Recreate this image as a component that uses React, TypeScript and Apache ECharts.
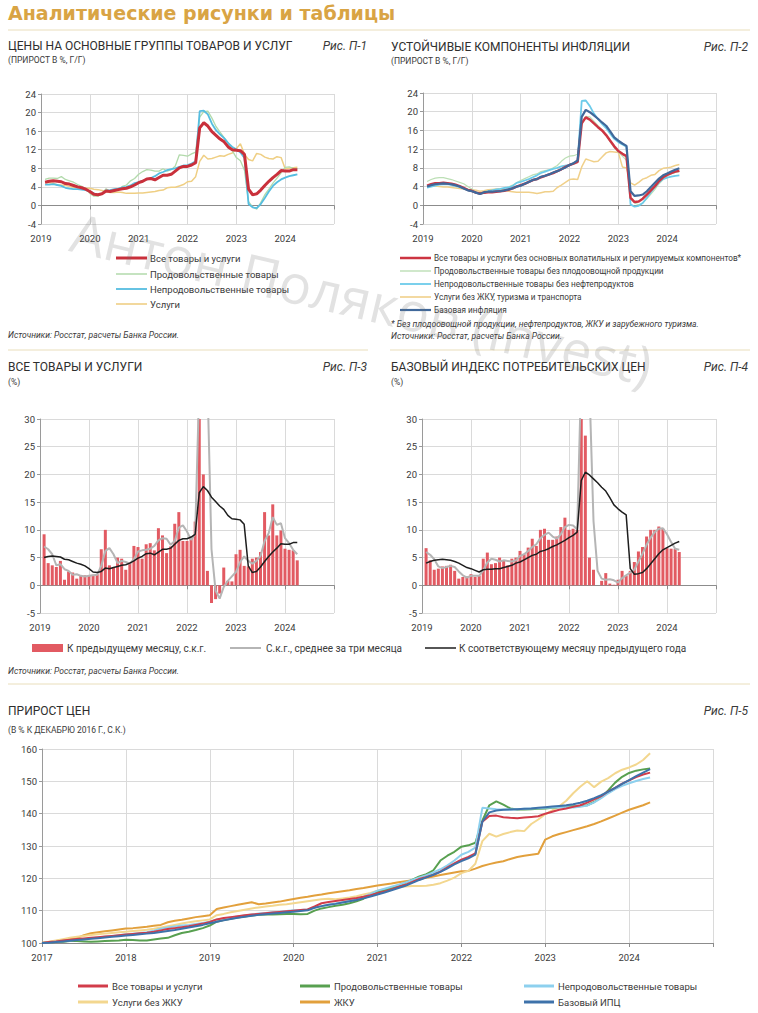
import React, { useEffect, useRef } from "react";
import * as echarts from "echarts";

// ---------- Panel П-1 (y/y %, Jan 2019 .. Mar 2024) ----------
const P1_ALL = [
  5.0, 5.2, 5.3, 5.2, 5.1, 4.7, 4.6, 4.3, 4.0, 3.8, 3.5, 3.0,
  2.4, 2.3, 2.5, 3.1, 3.0, 3.2, 3.4, 3.6, 3.7, 4.0, 4.4, 4.9,
  5.2, 5.7, 5.8, 5.5, 6.0, 6.5, 6.5, 6.7, 7.4, 8.1, 8.4, 8.4,
  8.7, 9.2, 16.7, 17.8, 17.1, 15.9, 15.1, 14.3, 13.7, 12.6, 12.0, 11.9,
  11.8, 11.0, 3.5, 2.3, 2.5, 3.3, 4.3, 5.2, 6.0, 6.7, 7.5, 7.4,
  7.4, 7.7, 7.7,
];
const P1_FOOD = [
  5.6, 5.9, 5.9, 5.8, 6.2, 5.6, 5.3, 5.0, 4.5, 4.1, 3.6, 2.6,
  2.0, 2.0, 2.6, 3.6, 3.0, 3.0, 3.4, 4.1, 4.4, 5.3, 5.8, 6.7,
  7.3, 7.7, 7.6, 7.4, 7.4, 7.9, 7.4, 7.7, 8.5, 10.9, 10.8, 10.6,
  11.1, 11.5, 19.0, 20.2, 20.3, 18.8, 17.0, 15.8, 14.6, 13.5, 11.8, 10.3,
  9.6, 7.6, 0.8, -0.3, -0.8, 0.6, 2.3, 3.5, 4.8, 5.9, 7.0, 8.2,
  8.3, 8.0, 7.9,
];
const P1_NONFOOD = [
  4.5, 4.5, 4.6, 4.4, 4.2, 3.8, 3.6, 3.5, 3.5, 3.4, 3.3, 3.0,
  2.6, 2.3, 2.5, 3.2, 3.3, 3.5, 3.6, 3.9, 4.0, 4.3, 4.8, 5.0,
  5.3, 5.6, 5.9, 6.3, 6.9, 7.2, 7.6, 7.8, 8.0, 8.3, 8.6, 8.7,
  9.0, 9.5, 20.3, 20.4, 19.6, 17.6, 16.2, 15.3, 14.5, 13.4, 12.6, 12.1,
  11.4, 10.2, 0.3, -0.4, -0.6, 0.3, 1.6, 3.0, 4.2, 5.0, 5.6, 6.0,
  6.3, 6.5, 6.7,
];
const P1_SERV = [
  5.0, 4.9, 4.8, 4.4, 4.4, 4.3, 4.1, 3.9, 3.8, 3.8, 3.7, 3.7,
  3.5, 3.4, 3.2, 3.0, 2.8, 2.8, 2.9, 2.8, 2.6, 2.6, 2.6, 2.7,
  2.7, 2.8, 2.9, 3.0, 3.2, 3.3, 3.8, 3.9, 3.9, 4.2, 4.5, 5.1,
  5.2, 6.2, 9.5, 10.8, 10.0, 10.1, 10.4, 10.7, 10.6, 11.0, 11.3, 12.2,
  13.3, 11.0, 9.9, 9.6, 11.2, 11.0, 10.4, 10.1, 10.0, 10.5, 10.3, 7.9,
  8.0, 8.1, 8.2,
];

// ---------- Panel П-2 ----------
const P2_EXVOL = [
  4.2, 4.5, 4.7, 4.7, 4.8, 4.7, 4.6, 4.4, 4.1, 3.7, 3.3, 3.1,
  2.7, 2.5, 2.7, 2.8, 2.8, 2.9, 3.0, 3.1, 3.3, 3.6, 4.0, 4.3,
  4.6, 5.0, 5.4, 5.6, 6.0, 6.3, 6.6, 6.9, 7.3, 7.7, 8.2, 8.6,
  8.9, 9.3, 17.5, 18.8, 18.3, 17.5, 16.7, 16.0, 15.0, 13.8, 12.6, 11.6,
  11.0, 10.5, 1.6, 0.7, 0.8, 1.4, 2.3, 3.2, 4.1, 5.2, 6.0, 6.5,
  6.9, 7.2, 7.4,
];
const P2_FOOD = [
  5.1, 5.5, 5.8, 5.9, 5.9, 5.7, 5.5, 5.2, 4.9, 4.6, 4.0, 3.5,
  2.8, 2.5, 2.6, 3.1, 3.2, 3.3, 3.4, 3.6, 3.9, 4.3, 4.8, 5.3,
  5.7, 6.1, 6.5, 6.7, 7.2, 7.4, 7.6, 8.0, 8.5, 9.4, 10.1, 10.5,
  10.6, 10.9, 17.5, 19.0, 18.9, 18.0, 17.0, 16.1, 15.0, 13.6, 12.3, 11.3,
  10.5, 9.6, 1.8, 0.5, 0.1, 0.5, 1.4, 2.4, 3.4, 4.6, 5.5, 6.3,
  6.7, 7.0, 7.2,
];
const P2_NONFOOD = [
  3.8, 4.0, 4.2, 4.4, 4.5, 4.5, 4.3, 4.1, 3.9, 3.6, 3.3, 3.1,
  2.7, 2.5, 2.6, 3.0, 3.2, 3.4, 3.5, 3.7, 3.8, 4.1, 4.8, 5.0,
  5.3, 5.6, 6.0, 6.4, 6.9, 7.2, 7.5, 7.8, 8.0, 8.3, 8.5, 8.7,
  9.0, 9.5, 22.3, 22.4, 21.2, 19.6, 18.4, 17.4, 16.5, 15.3, 14.2, 13.5,
  13.0, 12.5, 0.2, -0.3, -0.1, 0.5, 1.6, 2.8, 3.9, 4.9, 5.6, 5.9,
  6.1, 6.3, 6.4,
];
const P2_SERV = [
  3.9, 4.1, 4.1, 4.0, 3.9, 3.9, 3.8, 3.7, 3.6, 3.5, 3.4, 3.3,
  3.2, 3.0, 3.1, 3.3, 3.4, 3.5, 3.5, 3.3, 3.0, 2.9, 2.8, 2.8,
  2.8, 2.8, 2.7, 2.5, 2.7, 2.9, 2.9, 3.0, 3.8, 4.3, 4.9, 5.5,
  5.6, 5.5, 8.2, 9.9, 9.6, 9.3, 9.4, 10.3, 11.2, 11.5, 11.4, 11.3,
  8.2, 8.0, 4.8, 4.3, 4.9, 5.6, 5.9, 6.4, 6.6, 7.4, 7.9, 8.0,
  8.2, 8.5, 8.7,
];
const CORE_YY = [
  4.0, 4.3, 4.5, 4.6, 4.7, 4.6, 4.5, 4.3, 4.0, 3.6, 3.2, 3.0,
  2.7, 2.4, 2.8, 2.9, 2.9, 3.0, 3.0, 3.2, 3.4, 3.6, 4.0, 4.2,
  4.6, 5.0, 5.4, 5.6, 6.1, 6.3, 6.6, 7.0, 7.3, 7.7, 8.1, 8.6,
  9.0, 9.6, 18.9, 20.4, 19.9, 19.2, 18.5, 17.7, 17.0, 15.8, 14.5, 13.8,
  13.2, 12.7, 3.0, 2.0, 2.1, 2.3, 3.0, 3.9, 4.8, 5.7, 6.4, 6.8,
  7.2, 7.6, 7.9,
];

// ---------- Panel П-3 ----------
const P3_MOM = [
  9.2, 4.0, 3.6, 3.3, 4.4, 1.0, 2.5, 2.3, 1.2, 1.7, 1.8, 1.7,
  1.9, 2.0, 6.5, 10.0, 3.6, 3.3, 5.0, 4.8, 2.8, 4.2, 7.1, 6.9,
  4.8, 7.4, 7.6, 6.3, 10.3, 9.0, 5.8, 7.0, 11.1, 13.2, 8.0, 8.0,
  8.5, 11.5, 87, 20.0, 2.6, -3.2, -2.5, -1.5, 3.2, 0.8, 0.7, 5.6,
  6.4, 3.5, 3.4, 4.8, 5.0, 6.0, 13.2, 9.0, 14.6, 9.0, 9.9, 6.6,
  6.4, 6.3, 4.5,
];
const P3_AVG3 = [
  7.0, 6.5, 5.6, 3.6, 3.8, 2.9, 2.6, 1.9, 2.0, 1.7, 1.6, 1.7,
  1.8, 1.9, 3.5, 6.2, 6.7, 5.6, 4.0, 4.4, 4.2, 3.9, 4.7, 6.1,
  6.3, 6.4, 6.6, 7.1, 8.1, 8.5, 8.4, 7.3, 8.0, 10.4, 10.8, 9.7,
  8.2, 9.3, 36, 40, 37, 6.5, -1.0, -2.4, -0.3, 0.8, 1.6, 2.4,
  4.2, 5.2, 4.4, 3.9, 4.4, 5.3, 8.0, 9.4, 12.3, 10.9, 11.2, 8.5,
  7.6, 6.4, 5.6,
];

// ---------- Panel П-4 ----------
const P4_MOM = [
  6.7, 4.5, 2.8, 3.0, 3.4, 3.5, 3.7, 2.6, 1.2, 1.5, 1.6, 2.0,
  1.5, 1.7, 4.8, 5.9, 3.8, 4.0, 5.0, 4.5, 3.6, 4.8, 5.0, 6.2,
  5.6, 6.8, 8.4, 7.1, 10.0, 10.2, 8.2, 8.2, 8.8, 10.5, 12.2, 10.0,
  10.2, 10.0, 75, 27, 5.0, 2.8, 0.0, 0.8, 2.2, 0.3, 0.1, 1.0,
  2.6, 1.7, 2.6, 4.2, 6.1, 6.9, 8.8, 10.0, 10.0, 10.6, 10.2, 6.7,
  6.6, 6.6, 6.0,
];
const P4_AVG3 = [
  6.0, 5.5, 4.7, 3.4, 3.1, 3.3, 3.5, 3.3, 2.5, 1.8, 1.4, 1.7,
  1.7, 1.7, 2.7, 4.1, 4.8, 4.6, 4.3, 4.5, 4.4, 4.3, 4.5, 5.3,
  5.6, 6.2, 6.9, 7.4, 8.5, 9.1, 9.5, 8.8, 8.4, 9.2, 10.5, 10.9,
  10.8, 10.1, 38, 37, 36, 11.6, 2.6, 1.2, 1.0, 1.1, 0.9, 0.5,
  1.3, 1.8, 2.3, 2.8, 4.3, 5.7, 7.3, 8.6, 9.6, 10.2, 10.3, 9.2,
  7.8, 6.6, 6.4,
];

// ---------- Panel П-5 (index, Dec 2016 = 100, Dec 2016 .. Mar 2024) ----------
const P5_ALL = [100,
  100.3, 100.5, 100.8, 101.0, 101.2, 101.4, 101.6, 101.8, 102.0, 102.2, 102.4, 102.6,
  102.8, 103.0, 103.2, 103.5, 103.9, 104.3, 104.6, 104.9, 105.2, 105.6, 106.0, 106.5,
  107.3, 107.7, 108.0, 108.3, 108.6, 108.8, 109.0, 109.2, 109.4, 109.6, 109.8, 110.0,
  110.2, 110.4, 111.3, 112.3, 112.7, 113.0, 113.3, 113.6, 113.9, 114.3, 114.8, 115.4,
  115.9, 116.6, 117.3, 118.0, 118.9, 119.8, 120.4, 121.1, 122.1, 123.4, 124.6, 125.8,
  126.6, 127.7, 137.5, 139.3, 139.4, 138.9, 138.7, 138.6, 138.8, 139.0, 139.2, 140.0,
  140.6, 141.2, 141.6, 142.1, 142.6, 143.4, 144.4, 145.4, 146.9, 148.0, 149.3, 150.3,
  151.3, 152.1, 152.7,
];
const P5_FOOD = [100,
  100.2, 100.3, 100.4, 100.6, 100.6, 100.5, 100.4, 100.5, 100.6, 100.7, 100.8, 101.0,
  100.9, 100.8, 100.8, 101.1, 101.4, 101.6, 102.4, 103.1, 103.5, 104.0, 104.6, 105.4,
  106.6, 107.1, 107.5, 107.9, 108.2, 108.5, 108.7, 108.8, 108.8, 108.9, 109.0, 109.0,
  108.9, 109.0, 110.0, 110.7, 111.1, 111.5, 111.8, 112.3, 112.9, 113.7, 114.8, 115.8,
  116.3, 117.0, 117.7, 118.6, 119.6, 120.6, 121.3, 122.5, 125.5, 127.0, 128.2, 129.8,
  130.2, 131.0, 137.8, 142.6, 143.8, 142.8, 141.6, 141.3, 141.3, 141.4, 141.5, 141.6,
  141.8, 142.0, 142.2, 142.3, 142.4, 142.6, 143.6, 145.0, 147.2, 149.6, 151.4, 152.6,
  153.3, 153.7, 154.0,
];
const P5_NONFOOD = [100,
  100.2, 100.4, 100.6, 100.8, 101.0, 101.2, 101.5, 101.7, 101.9, 102.1, 102.4, 102.7,
  102.9, 103.1, 103.3, 103.8, 104.4, 104.8, 105.1, 105.4, 105.6, 105.9, 106.2, 106.6,
  107.3, 107.6, 107.9, 108.2, 108.5, 108.8, 109.1, 109.3, 109.5, 109.7, 109.9, 110.1,
  110.2, 110.4, 111.0, 111.4, 111.8, 112.2, 112.6, 113.0, 113.5, 114.3, 115.2, 116.2,
  116.8, 117.4, 118.0, 118.7, 119.5, 120.3, 121.0, 121.8, 122.8, 124.0, 125.5, 127.3,
  128.2, 129.5, 141.8, 141.6, 141.4, 141.3, 141.3, 141.4, 141.5, 141.6, 141.7, 141.8,
  141.9, 142.0, 142.0, 141.9, 142.1, 142.5, 143.5, 144.8, 146.3, 147.6, 148.6, 149.4,
  150.1, 150.7, 151.2,
];
const P5_SERV = [100,
  100.4, 100.8, 101.2, 101.6, 101.9, 102.2, 102.5, 102.7, 102.9, 103.1, 103.3, 103.5,
  103.7, 103.9, 104.1, 104.4, 104.8, 105.2, 105.6, 106.0, 106.4, 106.7, 107.0, 107.3,
  108.6, 109.0, 109.5, 109.9, 110.3, 110.7, 111.0, 111.3, 111.5, 111.8, 112.0, 112.3,
  112.6, 112.9, 113.2, 113.5, 113.7, 113.5, 113.8, 114.1, 114.5, 115.0, 115.5, 116.2,
  116.6, 117.0, 117.3, 117.5, 117.6, 117.6, 117.7, 118.0, 118.5, 119.3, 120.2, 121.6,
  122.3, 124.5, 131.5, 133.8, 132.9, 133.7, 134.3, 134.8, 134.6, 136.8, 138.2, 139.8,
  141.0, 142.3, 144.0, 146.3, 148.3, 150.0, 148.2, 149.9, 151.0, 152.5, 153.6, 154.3,
  155.2, 156.6, 158.7,
];
const P5_HOUSING = [100,
  100.3, 100.6, 100.9, 101.2, 101.6, 102.4, 103.0, 103.3, 103.6, 103.9, 104.2, 104.5,
  104.6, 104.8, 105.0, 105.3, 105.6, 106.4, 106.9, 107.2, 107.6, 108.0, 108.3, 108.6,
  110.5, 111.0, 111.4, 111.8, 112.2, 112.6, 112.0, 112.2, 112.5, 112.8, 113.2, 113.6,
  114.0, 114.3, 114.7, 115.0, 115.4, 115.7, 116.0, 116.3, 116.7, 117.0, 117.4, 117.8,
  118.1, 118.4, 118.8, 119.1, 119.4, 119.8, 120.2, 120.6, 121.0, 121.4, 121.8, 122.2,
  122.3, 123.0, 123.8, 124.4, 124.9, 125.3, 126.0, 126.6, 127.0, 127.3, 127.6, 132.0,
  133.0, 133.7, 134.3, 134.9, 135.5, 136.1, 136.8, 137.6, 138.5, 139.4, 140.3, 141.2,
  141.9, 142.6, 143.5,
];
const P5_CORE = [100,
  100.1, 100.3, 100.5, 100.7, 100.9, 101.1, 101.3, 101.5, 101.7, 101.9, 102.1, 102.3,
  102.5, 102.7, 102.9, 103.1, 103.4, 103.7, 104.0, 104.4, 104.8, 105.2, 105.6, 106.1,
  106.6, 107.0, 107.4, 107.8, 108.1, 108.4, 108.7, 108.9, 109.1, 109.3, 109.5, 109.7,
  109.9, 110.1, 110.9, 111.4, 111.8, 112.1, 112.5, 112.9, 113.3, 113.8, 114.4, 115.0,
  115.6, 116.3, 117.0, 117.7, 118.6, 119.5, 120.3, 121.1, 122.0, 123.1, 124.3, 125.3,
  126.2, 127.3, 137.5, 140.4, 141.0, 141.2, 141.3, 141.4, 141.5, 141.6, 141.8, 142.0,
  142.2, 142.4, 142.6, 142.9, 143.4, 144.0, 144.8, 145.7, 146.8, 148.0, 149.2, 150.4,
  151.6, 152.7, 153.8,
];

const FONT = "Roboto, 'Noto Sans', sans-serif";
const GRID_C = "#DADADA";
const AXIS_C = "#9A9A9A";
const TXT_C = "#3A3A3A";

// month positions on a value axis (start year + month/12)
const pts = (startYear: number, offset: number, vals: number[]) =>
  vals.map((v, i) => [startYear + (i + offset) / 12, v]);

const yearFmt = (max: number) => (v: number) => (v >= max ? "" : String(v));

function labelX(grid: number, min: number, max: number) {
  return {
    gridIndex: grid, type: "value", min, max, interval: 1, position: "bottom",
    axisLine: { show: false, onZero: false }, axisTick: { show: false },
    axisLabel: { fontSize: 9.5, color: TXT_C, margin: 9, fontFamily: FONT, formatter: yearFmt(max) },
    splitLine: { show: true, lineStyle: { color: GRID_C, width: 1 } },
  };
}
function zeroX(grid: number, min: number, max: number) {
  return {
    gridIndex: grid, type: "value", min, max, interval: 1, position: "bottom",
    axisLine: { show: true, onZero: true, lineStyle: { color: "#8C8C8C", width: 1 } },
    axisTick: { show: true, length: 4, lineStyle: { color: "#8C8C8C" } },
    axisLabel: { show: false }, splitLine: { show: false },
  };
}
function yAx(grid: number, min: number, max: number, interval: number) {
  return {
    gridIndex: grid, type: "value", min, max, interval,
    axisLine: { show: true, lineStyle: { color: AXIS_C } },
    axisTick: { show: true, length: 3, lineStyle: { color: AXIS_C } },
    axisLabel: { fontSize: 9.5, color: TXT_C, margin: 5, fontFamily: FONT },
    splitLine: { show: true, lineStyle: { color: GRID_C, width: 1 } },
  };
}
function line(xi: number, yi: number, data: number[][], color: string, width: number, z = 2) {
  return {
    type: "line", xAxisIndex: xi, yAxisIndex: yi, data, symbol: "none", showSymbol: false,
    lineStyle: { color, width }, itemStyle: { color }, clip: true, z, silent: true,
  };
}
function txt(x: number, y: number, text: string, font: string, fill = TXT_C, align = "left") {
  return {
    type: "text", x, y, silent: true,
    style: { text, font, fill, align, verticalAlign: "middle", textAlign: align, textVerticalAlign: "middle" },
  };
}
function legLine(x: number, y: number, len: number, color: string, width: number, label: string, font: string, gap = 3) {
  return [
    { type: "line", silent: true, shape: { x1: x, y1: y, x2: x + len, y2: y }, style: { stroke: color, lineWidth: width } },
    txt(x + len + gap, y, label, font),
  ];
}
function hline(x1: number, x2: number, y: number, color = "#E9DEBB") {
  return { type: "line", silent: true, shape: { x1, y1: y, x2, y2: y }, style: { stroke: color, lineWidth: 1 } };
}

const C1 = { red: "#C9303B", green: "#B2DAAB", cyan: "#55BDE0", yellow: "#EFCF84" };
const C2 = { red: "#CC3542", green: "#BCDFB5", cyan: "#6CCBEA", yellow: "#F0D08A", blue: "#40689A" };
const C3 = { bar: "#E25A62", grey: "#B5B5B5", black: "#1E1E1E" };
const C5 = { red: "#D23C4A", green: "#58A050", cyan: "#8DD0EE", yellow: "#F3D78F", orange: "#E2A03C", blue: "#3E72AA" };

export default function App() {
  const ref = useRef<HTMLDivElement>(null);
  useEffect(() => {
    if (!ref.current) return;
    const chart = echarts.init(ref.current, null, { renderer: "svg" });
    const T12 = `12px ${FONT}`;
    const I12 = `italic 12px ${FONT}`;
    const S8 = `8.5px ${FONT}`;
    const SRC = `italic 8.5px ${FONT}`;

    const graphic: any[] = [
      txt(8, 13, "Аналитические рисунки и таблицы", `bold 19px 'DejaVu Sans', sans-serif`, "#D9A444"),
      hline(8, 750, 30),
      // P-1
      txt(8, 46, "ЦЕНЫ НА ОСНОВНЫЕ ГРУППЫ ТОВАРОВ И УСЛУГ", T12, "#2E2E2E"),
      txt(367, 46, "Рис. П-1", I12, "#3A3A3A", "right"),
      txt(8, 60, "(ПРИРОСТ В %, Г/Г)", S8),
      ...legLine(116, 258, 31, C1.red, 3, "Все товары и услуги", `9.5px ${FONT}`),
      ...legLine(116, 274, 31, C1.green, 1.5, "Продовольственные товары", `9.5px ${FONT}`),
      ...legLine(116, 289, 31, C1.cyan, 1.8, "Непродовольственные товары", `9.5px ${FONT}`),
      ...legLine(116, 304, 31, C1.yellow, 1.6, "Услуги", `9.5px ${FONT}`),
      txt(8, 335, "Источники: Росстат, расчеты Банка России.", SRC),
      // P-2
      txt(391, 47, "УСТОЙЧИВЫЕ КОМПОНЕНТЫ ИНФЛЯЦИИ", T12, "#2E2E2E"),
      txt(748, 47, "Рис. П-2", I12, "#3A3A3A", "right"),
      txt(391, 61, "(ПРИРОСТ В %, Г/Г)", S8),
      ...legLine(400, 258, 31, C2.red, 2.5, "Все товары и услуги без основных волатильных и регулируемых компонентов*", `8.2px ${FONT}`),
      ...legLine(400, 271, 31, C2.green, 1.4, "Продовольственные товары без плодоовощной продукции", `8.2px ${FONT}`),
      ...legLine(400, 284, 31, C2.cyan, 1.8, "Непродовольственные товары без нефтепродуктов", `8.2px ${FONT}`),
      ...legLine(400, 297, 31, C2.yellow, 1.6, "Услуги без ЖКУ, туризма и транспорта", `8.2px ${FONT}`),
      ...legLine(400, 310, 31, C2.blue, 2.2, "Базовая инфляция", `8.2px ${FONT}`),
      txt(391, 324, "* Без плодоовощной продукции, нефтепродуктов, ЖКУ и зарубежного туризма.", SRC),
      txt(391, 336, "Источники: Росстат, расчеты Банка России.", SRC),
      hline(8, 368, 350),
      hline(390, 750, 350),
      // P-3
      txt(8, 367, "ВСЕ ТОВАРЫ И УСЛУГИ", T12, "#2E2E2E"),
      txt(367, 367, "Рис. П-3", I12, "#3A3A3A", "right"),
      txt(8, 382, "(%)", S8),
      { type: "rect", silent: true, shape: { x: 32, y: 644, width: 31, height: 8 }, style: { fill: C3.bar } },
      txt(67, 648, "К предыдущему месяцу, с.к.г.", `10px ${FONT}`),
      ...legLine(230, 648, 31, C3.grey, 2, "С.к.г., среднее за три месяца", `10px ${FONT}`, 5),
      ...legLine(425, 648, 31, C3.black, 1.5, "К соответствующему месяцу предыдущего года", `10px ${FONT}`, 3),
      txt(8, 671, "Источники: Росстат, расчеты Банка России.", SRC),
      // P-4
      txt(391, 367, "БАЗОВЫЙ ИНДЕКС ПОТРЕБИТЕЛЬСКИХ ЦЕН", T12, "#2E2E2E"),
      txt(748, 367, "Рис. П-4", I12, "#3A3A3A", "right"),
      txt(391, 382, "(%)", S8),
      hline(8, 750, 684),
      // P-5
      txt(8, 711, "ПРИРОСТ ЦЕН", T12, "#2E2E2E"),
      txt(748, 711, "Рис. П-5", I12, "#3A3A3A", "right"),
      txt(8, 730, "(В % К ДЕКАБРЮ 2016 Г., С.К.)", S8),
      ...legLine(78, 986, 30, C5.red, 3, "Все товары и услуги", `9.5px ${FONT}`, 4),
      ...legLine(300, 986, 30, C5.green, 3, "Продовольственные товары", `9.5px ${FONT}`, 4),
      ...legLine(524, 986, 30, C5.cyan, 3, "Непродовольственные товары", `9.5px ${FONT}`, 4),
      ...legLine(78, 1002, 30, C5.yellow, 3, "Услуги без ЖКУ", `9.5px ${FONT}`, 4),
      ...legLine(300, 1002, 30, C5.orange, 3, "ЖКУ", `9.5px ${FONT}`, 4),
      ...legLine(524, 1002, 30, C5.blue, 3, "Базовый ИПЦ", `9.5px ${FONT}`, 4),
      // watermark
      {
        type: "text", x: 362, y: 298, rotation: -0.23, silent: true, z: 100,
        style: {
          text: "Антон Поляков (Invest)", font: `54px 'Open Sans', sans-serif`,
          fill: "rgba(110,110,110,0.2)", align: "center", verticalAlign: "middle",
          textAlign: "center", textVerticalAlign: "middle",
        },
      },
    ];

    const option: any = {
      animation: false,
      backgroundColor: "#FFFFFF",
      textStyle: { fontFamily: FONT },
      grid: [
        { left: 41, top: 94, width: 293, height: 130 },
        { left: 423, top: 93, width: 293, height: 131 },
        { left: 40, top: 419, width: 294, height: 194 },
        { left: 422, top: 419, width: 294, height: 194 },
        { left: 42, top: 749, width: 671, height: 194 },
      ],
      xAxis: [
        labelX(0, 2019, 2025), zeroX(0, 2019, 2025),
        labelX(1, 2019, 2025), zeroX(1, 2019, 2025),
        labelX(2, 2019, 2025), zeroX(2, 2019, 2025),
        labelX(3, 2019, 2025), zeroX(3, 2019, 2025),
        { ...labelX(4, 2017, 2025), axisLine: { show: true, onZero: false, lineStyle: { color: "#8C8C8C" } },
          axisTick: { show: true, length: 4, lineStyle: { color: "#8C8C8C" } } },
      ],
      yAxis: [
        yAx(0, -4, 24, 4),
        yAx(1, -4, 24, 4),
        yAx(2, -5, 30, 5),
        yAx(3, -5, 30, 5),
        yAx(4, 100, 160, 10),
      ],
      graphic,
      series: [
        // P-1
        line(0, 0, pts(2019, 1, P1_SERV), C1.yellow, 1.5, 2),
        line(0, 0, pts(2019, 1, P1_FOOD), C1.green, 1.3, 3),
        line(0, 0, pts(2019, 1, P1_NONFOOD), C1.cyan, 1.8, 4),
        line(0, 0, pts(2019, 1, P1_ALL), C1.red, 3, 5),
        // P-2
        line(2, 1, pts(2019, 1, P2_SERV), C2.yellow, 1.5, 2),
        line(2, 1, pts(2019, 1, P2_FOOD), C2.green, 1.2, 3),
        line(2, 1, pts(2019, 1, P2_NONFOOD), C2.cyan, 1.8, 4),
        line(2, 1, pts(2019, 1, P2_EXVOL), C2.red, 2.5, 5),
        line(2, 1, pts(2019, 1, CORE_YY), C2.blue, 2.2, 6),
        // P-3
        { type: "bar", xAxisIndex: 4, yAxisIndex: 2, data: pts(2019, 1, P3_MOM), barWidth: 3,
          itemStyle: { color: C3.bar }, clip: true, silent: true, z: 2 },
        line(4, 2, pts(2019, 1, P3_AVG3), C3.grey, 2, 3),
        line(4, 2, pts(2019, 1, P1_ALL), C3.black, 1.5, 4),
        // P-4
        { type: "bar", xAxisIndex: 6, yAxisIndex: 3, data: pts(2019, 1, P4_MOM), barWidth: 3,
          itemStyle: { color: C3.bar }, clip: true, silent: true, z: 2 },
        line(6, 3, pts(2019, 1, P4_AVG3), C3.grey, 2, 3),
        line(6, 3, pts(2019, 1, CORE_YY), C3.black, 1.5, 4),
        // P-5
        line(8, 4, pts(2017, 0, P5_HOUSING), C5.orange, 2, 2),
        line(8, 4, pts(2017, 0, P5_SERV), C5.yellow, 2, 3),
        line(8, 4, pts(2017, 0, P5_FOOD), C5.green, 2, 4),
        line(8, 4, pts(2017, 0, P5_NONFOOD), C5.cyan, 2, 5),
        line(8, 4, pts(2017, 0, P5_ALL), C5.red, 2, 6),
        line(8, 4, pts(2017, 0, P5_CORE), C5.blue, 2, 7),
      ],
    };
    chart.setOption(option);
    return () => chart.dispose();
  }, []);
  return (
    <div
      ref={ref}
      style={{ position: "fixed", left: 0, top: 0, width: 758, height: 1013, background: "#fff" }}
    />
  );
}
